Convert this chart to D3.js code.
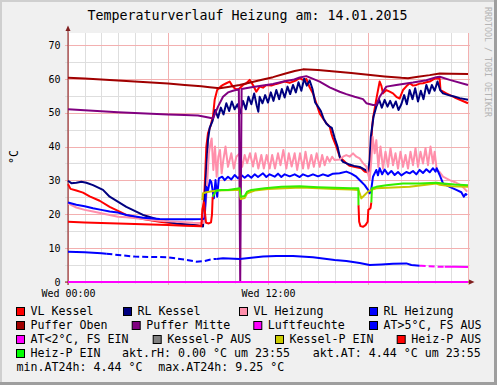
<!DOCTYPE html>
<html><head><meta charset="utf-8">
<script src="https://cdn.jsdelivr.net/npm/d3@7"></script>
<style>
body{margin:0;background:#f0f0f0;}
svg{display:block;}
text{font-family:"DejaVu Sans Mono",monospace;}
</style></head><body>
<svg id="c" width="497" height="385"></svg>
<script>
// ---------- DATA (hour of day, °C) ----------
const title = "Temperaturverlauf Heizung am: 14.01.2015";
const yLabel = "°C";
const credit = "RRDTOOL / TOBI OETIKER";
const yTickValues = [0,10,20,30,40,50,60,70];
const yMinorValues = [5,15,25,35,45,55,65];
const xMajorHours = [0,6,12,18,24];
const xLabelHours = [0,12];
const xLabelTexts = ["Wed 00:00","Wed 12:00"];

const vlKessel = [[0,28.9],[0.15,27.5],[0.5,27.0],[0.9,26.4],[1.3,25.3],[1.9,24.0],[2.5,22.2],[3.0,21.0],[3.5,19.8],[4.5,18.6],[5.5,17.8],[6.5,17.2],[7.5,16.8],[8.05,16.6],[8.2,28],[8.3,40],[8.4,44],[8.55,46],[8.7,49],[8.8,53.8],[8.95,56.7],[9.15,57.7],[9.3,58.2],[9.5,58.7],[9.7,59.2],[9.85,58],[10.0,57.2],[10.15,56.8],[10.3,57.2],[10.5,58.2],[10.7,58.7],[10.9,59.7],[11.1,58.2],[11.3,56.2],[11.5,57.7],[11.7,57.4],[11.9,58.2],[12.2,58.0],[12.5,58.5],[12.8,58.9],[13.0,59.2],[13.3,58.8],[13.5,59.2],[13.7,59.6],[13.9,60.2],[14.1,59.7],[14.3,60.0],[14.4,58.7],[14.5,57.5],[14.7,55.7],[14.9,52.8],[15.1,49.8],[15.3,48.3],[15.5,46.9],[15.7,45.9],[15.8,43.9],[15.9,42.4],[16.1,40.0],[16.3,37.0],[16.5,36.0],[16.7,35.1],[16.9,34.3],[17.3,33.9],[17.6,33.6],[17.8,32.6],[18.0,32.3],[18.1,33.1],[18.15,38],[18.25,45.9],[18.3,48.3],[18.5,54],[18.7,59.2],[18.8,58],[18.9,55.7],[19.1,56.7],[19.3,56.2],[19.5,55.7],[19.7,54.7],[19.9,54.2],[20.1,56.7],[20.3,57.8],[20.5,58.7],[20.7,58.0],[20.9,58.2],[21.1,58.6],[21.3,58.7],[21.5,59.0],[21.7,59.2],[21.9,59.8],[22.1,60.2],[22.3,60.0],[22.35,56.7],[22.7,55.7],[23.2,54.5],[24.0,52.8]];

const rlKessel = [[0,29.9],[0.2,29.2],[0.5,29.3],[0.8,29.6],[1.1,29.3],[1.5,28.6],[2.1,27.2],[2.5,25.2],[3.5,22.2],[4.5,19.8],[5.5,18.3],[6.5,17.3],[7.5,16.8],[8.0,16.5],[8.1,16.4],[8.2,24],[8.3,33],[8.4,42],[8.5,45.5],[8.67,47.5],[8.83,50.8],[9.0,48.5],[9.17,51.5],[9.33,49.5],[9.5,52.8],[9.67,50.5],[9.83,53.3],[10.0,51.0],[10.17,52.5],[10.33,49.8],[10.5,53.5],[10.67,51.0],[10.83,54.7],[11.0,52.5],[11.17,55.7],[11.33,52.0],[11.42,50.3],[11.5,54.7],[11.67,52.8],[11.83,55.2],[12.0,53.0],[12.17,56.0],[12.33,53.5],[12.5,56.7],[12.67,54.0],[12.83,57.0],[13.0,54.5],[13.17,57.7],[13.33,55.5],[13.5,58.2],[13.67,56.0],[13.83,59.0],[14.0,56.5],[14.17,60.0],[14.33,58.0],[14.5,59.5],[14.67,57.0],[14.83,53.0],[15.0,51.8],[15.17,50.5],[15.33,48.3],[15.5,46.8],[15.67,46.0],[15.83,45.5],[16.0,42.5],[16.17,40.0],[16.33,36.5],[16.5,35.5],[16.83,34.8],[17.17,34.3],[17.5,34.0],[17.83,33.1],[18.0,32.6],[18.1,36.0],[18.17,42.9],[18.33,48.8],[18.5,51.8],[18.67,53.8],[18.83,51.5],[19.0,53.8],[19.17,51.8],[19.33,53.5],[19.5,51.5],[19.67,53.3],[19.83,50.8],[20.0,52.5],[20.17,55.2],[20.33,52.5],[20.5,56.7],[20.67,54.0],[20.83,57.2],[21.0,53.3],[21.17,56.5],[21.33,54.0],[21.5,58.2],[21.67,55.7],[21.83,58.2],[22.0,56.5],[22.17,59.2],[22.33,56.7],[22.5,55.7],[22.83,55.2],[23.17,54.8],[23.5,54.3],[24.0,53.8]];

const vlHeizung = [[0,23.2],[0.5,22.0],[1.0,21.3],[1.5,20.8],[2.0,20.3],[2.5,19.8],[3.0,19.3],[3.5,19.1],[4.5,18.6],[5.5,18.1],[6.5,17.8],[7.5,17.5],[8.1,17.4],[8.3,25],[8.45,38],[8.55,41],[8.62,42.4],[8.72,33.1],[8.82,40],[8.92,31.1],[9.02,37],[9.12,39],[9.22,32.1],[9.32,36],[9.45,40],[9.6,34],[9.8,38],[9.95,33.5],[10.1,37],[10.3,38],[10.45,34],[10.6,37.5],[10.75,35.1],[10.92,38],[11.1,34.1],[11.25,38],[11.42,33.5],[11.6,37.5],[11.75,33.5],[11.92,37.5],[12.1,33.5],[12.25,37.5],[12.42,33.5],[12.6,38],[12.75,34.5],[12.92,39],[13.1,33.5],[13.25,38],[13.42,34.1],[13.6,38],[13.75,33.1],[13.92,38],[14.1,33.5],[14.25,38.5],[14.42,33.5],[14.6,37.5],[14.75,34],[14.92,38],[15.1,34],[15.25,37.5],[15.4,34.5],[15.55,37],[15.7,35.5],[15.85,37],[16.0,36],[16.3,36.2],[16.5,37],[16.7,37.5],[16.9,37],[17.1,38],[17.3,37],[17.5,36.5],[17.7,35.1],[17.9,34.1],[18.0,32.1],[18.1,30.1],[18.2,36],[18.28,42.9],[18.4,38],[18.5,41.9],[18.62,34],[18.75,40],[18.9,33.5],[19.05,38.5],[19.2,34],[19.35,39.5],[19.5,34.5],[19.65,38],[19.8,33.5],[19.95,38.5],[20.1,34],[20.25,37.5],[20.4,33.5],[20.55,38.5],[20.7,34.5],[20.85,39.5],[21.0,34],[21.15,38.5],[21.3,35],[21.45,39.5],[21.6,34.5],[21.75,40],[21.9,35],[22.0,38.5],[22.12,33.1],[22.3,32.5],[22.5,31.1],[22.9,30.1],[23.3,29.3],[23.6,28.5],[23.8,27.5],[23.95,26.7]];

const rlHeizung = [[0,23.5],[0.5,22.8],[1.0,22.4],[1.5,21.8],[2.0,21.3],[2.5,20.8],[3.0,20.5],[3.5,19.8],[4.5,19.0],[5.5,18.6],[6.5,18.5],[7.5,18.5],[8.1,18.6],[8.2,18.8],[8.3,28.1],[8.4,27],[8.52,30.1],[8.6,29.5],[8.75,24.7],[8.85,30.1],[8.95,25.2],[9.05,30.6],[9.25,31.1],[9.4,30.1],[9.6,31.1],[9.8,30.3],[10.0,31.6],[10.2,30.6],[10.4,31.6],[10.6,30.8],[10.8,31.6],[11.0,30.8],[11.2,31.8],[11.4,31.0],[11.7,32.1],[11.9,31.0],[12.1,31.8],[12.4,31.1],[12.6,32.0],[12.8,31.0],[13.0,31.8],[13.3,31.2],[13.6,31.8],[13.9,31.0],[14.1,31.8],[14.4,31.2],[14.7,31.8],[15.0,31.2],[15.3,31.8],[15.6,31.3],[15.9,32.0],[16.3,32.1],[16.7,32.6],[17.0,32.0],[17.3,31.1],[17.6,29.6],[17.8,28.6],[18.0,27.2],[18.1,26.2],[18.2,27.5],[18.3,31.1],[18.5,33.1],[18.6,31.5],[18.7,33.6],[18.85,31.8],[19.0,33.2],[19.2,31.8],[19.4,32.8],[19.6,31.6],[19.8,32.5],[20.0,31.5],[20.3,32.5],[20.5,32.1],[20.7,32.8],[20.9,31.8],[21.1,33.1],[21.3,32.2],[21.5,33.3],[21.7,32.4],[21.9,33.6],[22.05,32.6],[22.12,33.6],[22.3,31.6],[22.5,29.1],[22.9,28.1],[23.3,27.2],[23.6,26.5],[23.75,25.2],[23.85,26],[23.95,25.7]];

const pufferOben = [[0,60.3],[1,60.1],[2,59.8],[3,59.5],[4,59.2],[5,58.9],[6,58.6],[7,58.2],[8,57.8],[8.5,57.5],[9.1,57.2],[9.6,57.6],[10.3,58.2],[11.0,59.0],[11.7,59.8],[12.3,60.5],[13.0,61.5],[13.6,62.3],[14.1,62.8],[15.0,62.6],[16.0,62.2],[17.0,61.7],[18.0,61.2],[19.0,60.7],[20.0,60.3],[20.4,60.2],[21.0,60.6],[21.7,61.1],[22.3,61.6],[23.0,61.5],[24,61.4]];

const pufferMitte = [[0,51.0],[1,50.7],[2,50.4],[3,50.1],[4,49.9],[5,49.7],[6,49.5],[7,49.3],[7.8,49.2],[8.2,48.8],[8.5,48.5],[8.7,48.3],[8.85,50.0],[9.0,51.8],[9.3,54.7],[9.6,56.0],[9.9,56.5],[10.25,56.9],[10.333,0],[10.417,57.0],[11.0,57.5],[11.5,57.9],[12.3,58.5],[13.0,59.3],[13.5,59.7],[13.9,60.4],[14.3,60.8],[14.6,60.2],[15.1,59.2],[15.7,57.5],[16.3,56.2],[16.7,55.5],[17.2,54.7],[17.7,54.0],[17.9,52.8],[18.3,52.3],[18.5,52.3],[18.7,54.7],[19.1,57.7],[19.7,58.2],[20.7,58.9],[21.5,59.6],[22.1,60.5],[22.3,60.6],[22.9,59.7],[24,58.2]];

const luftfeuchte = [[0,0],[24,0]];

const aussenTemp = [[0,8.95],[1,8.8],[2,8.5],[3,8.0],[4,7.5],[5,7.4],[6,7.3],[7,6.6],[7.7,6.0],[8.2,6.2],[8.6,6.7],[9.3,7.0],[10.3,6.8],[11.7,7.5],[12.5,7.7],[13.5,7.7],[14.7,7.3],[16.0,6.5],[16.7,6.2],[17.5,5.6],[18.1,5.0],[18.8,5.2],[19.5,5.4],[20.3,5.5],[20.6,5.0],[21.2,4.8],[22.3,4.5],[23.2,4.5],[24,4.44]];
// AT state periods: [from, to, state, intermittent]
const atStates = [[0,2.3,"warm",false],[2.3,8.9,"warm",true],[8.9,21.1,"warm",false],[21.1,22.6,"cold",true],[22.6,24,"cold",false]];

// Kessel-P temperature line while pump ON
const kesselPEin = [[8.06,24.2],[8.1,26.2],[8.3,26.5],[8.55,26.7],[9.0,27.0],[10.0,27.2],[10.3,27.2],[10.36,24.5],[10.6,24.8],[10.75,26.2],[11.2,27.0],[12,27.5],[13,27.7],[14,27.9],[15,27.7],[16,27.5],[17,27.3],[17.42,27.2],[17.5,26.2],[17.6,24.7],[17.8,25.7],[18.0,26.7],[18.2,27.2],[18.5,27.7],[20.5,28.1],[22.1,29.1],[22.3,28.7],[23,28.3],[24,28.1]];
// Heiz-P temperature line while pump OFF / ON
const heizPAus = [[0,17.8],[1,17.6],[2,17.4],[3,17.3],[4,17.1],[5,17.0],[6,16.8],[7,16.6],[8.0,16.5],[8.06,21.5],[8.16,23.5],[8.28,17.5],[8.45,17.3],[8.58,17.6],[8.64,20],[8.68,25.2],[8.7,null],[17.43,null],[17.43,22.7],[17.47,17.8],[17.55,16.5],[17.7,16.3],[17.85,16.8],[17.98,17.8],[18.02,21.3],[18.15,21.8],[18.2,23.5]];
const heizPEin = [[8.68,25.2],[8.8,26.2],[8.9,27.0],[9.2,27.2],[9.6,27.2],[10.0,27.5],[10.3,27.7],[10.36,25.2],[10.6,25.4],[10.75,26.7],[11.0,27.2],[11.8,27.7],[12.8,28.1],[13.9,28.3],[15.0,28.0],[16.0,27.8],[17.0,27.7],[17.42,27.7],[17.43,22.7],[17.44,null],[18.19,null],[18.2,23.5],[18.24,27.7],[18.5,28.1],[19.1,28.6],[20.1,29.1],[21.1,29.1],[22.1,29.3],[22.5,29.1],[23.2,28.8],[24,28.6]];

const legendNames = [
  ["VL Kessel","RL Kessel","VL Heizung","RL Heizung"],
  ["Puffer Oben","Puffer Mitte","Luftfeuchte","AT>5°C, FS AUS"],
  ["AT<2°C, FS EIN","Kessel-P AUS","Kessel-P EIN","Heiz-P AUS"],
  ["Heiz-P EIN"]
];
const legendColors = [
  ["#ff0000","#000080","#ff8fab","#0000ff"],
  ["#a00000","#800080","#ff00ff","#0000ff"],
  ["#ff00ff","#808080","#cccc00","#ff0000"],
  ["#00ff00"]
];
const statTexts = ["akt.rH: 0.00 °C um 23:55","akt.AT: 4.44 °C um 23:55","min.AT24h: 4.44 °C","max.AT24h: 9.25 °C"];

// ---------- LAYOUT ----------
const W=497,H=385;
const svg=d3.select("#c");
const x=d3.scaleLinear().domain([0,24]).range([68,468]);
const y=d3.scaleLinear().domain([0,73.54]).range([282,33]);

svg.append("rect").attr("width",W).attr("height",H).attr("fill","#f0f0f0");
// 3D frame
svg.append("rect").attr("x",0).attr("y",0).attr("width",W).attr("height",2).attr("fill","#cfcfcf");
svg.append("rect").attr("x",0).attr("y",0).attr("width",2).attr("height",H).attr("fill","#cfcfcf");
svg.append("rect").attr("x",W-3).attr("y",0).attr("width",3).attr("height",H).attr("fill","#9e9e9e");
svg.append("rect").attr("x",0).attr("y",H-3).attr("width",W).attr("height",3).attr("fill","#9e9e9e");

// canvas
svg.append("rect").attr("x",68).attr("y",33).attr("width",400).attr("height",249).attr("fill","#fff");

const minorCol="#dedede", majorCol="#f3b0b0";
svg.append("g").attr("transform","translate(0,284)")
  .call(d3.axisBottom(x).tickValues(d3.range(1,24)).tickSize(-251).tickFormat(""))
  .call(g=>{g.select(".domain").remove();g.selectAll("line").attr("stroke",minorCol).attr("stroke-width",1).attr("shape-rendering","crispEdges");});
svg.append("g").attr("transform","translate(65,0)")
  .call(d3.axisLeft(y).tickValues(yMinorValues).tickSize(-405).tickFormat(""))
  .call(g=>{g.select(".domain").remove();g.selectAll("line").attr("stroke",minorCol).attr("stroke-width",1).attr("shape-rendering","crispEdges");});
svg.append("g").attr("transform","translate(0,285)")
  .call(d3.axisBottom(x).tickValues(xMajorHours).tickSize(-252).tickFormat(""))
  .call(g=>{g.select(".domain").remove();g.selectAll("line").attr("stroke",majorCol).attr("stroke-width",1).attr("shape-rendering","crispEdges");});
svg.append("g").attr("transform","translate(65,0)")
  .call(d3.axisLeft(y).tickValues(yTickValues).tickSize(-405).tickFormat(""))
  .call(g=>{g.select(".domain").remove();g.selectAll("line").attr("stroke",majorCol).attr("stroke-width",1).attr("shape-rendering","crispEdges");});

svg.append("g").attr("transform","translate(68,0)")
  .call(d3.axisLeft(y).tickValues(yTickValues).tickSize(0).tickPadding(7.5).tickFormat(d3.format("d")))
  .call(g=>{g.select(".domain").remove();g.selectAll("text").attr("font-family","DejaVu Sans Mono").attr("font-size","10px").attr("fill","#000");});
svg.append("g").attr("transform","translate(0,282)")
  .call(d3.axisBottom(x).tickValues(xLabelHours).tickSize(0).tickPadding(8).tickFormat((d,i)=>xLabelTexts[i]))
  .call(g=>{g.select(".domain").remove();g.selectAll("text").attr("font-family","DejaVu Sans Mono").attr("font-size","10px").attr("fill","#000");});

const axCol="#801f1f";
svg.append("line").attr("x1",65).attr("x2",471).attr("y1",282).attr("y2",282).attr("stroke",axCol).attr("stroke-width",1);
svg.append("line").attr("x1",68).attr("x2",68).attr("y1",285).attr("y2",29).attr("stroke",axCol).attr("stroke-width",1);
svg.append("path").attr("d","M469,279.5L474.5,282L469,284.5Z").attr("fill",axCol);
svg.append("path").attr("d","M65.5,31L68,25.5L70.5,31Z").attr("fill",axCol);

const line=d3.line().defined(d=>d[1]!=null).x(d=>x(d[0])).y(d=>y(d[1]));
function draw(data,color,extra){
  const p=svg.append("path").datum(data).attr("d",line).attr("fill","none")
    .attr("stroke",color).attr("stroke-width",2).attr("stroke-linejoin","round").attr("stroke-linecap","butt");
  if(extra) extra(p);
  return p;
}
draw(vlKessel,"#ff0000");
draw(rlKessel,"#000080");
draw(vlHeizung,"#ff8fab");
draw(rlHeizung,"#0000ff");
draw(pufferOben,"#a00000");
draw(pufferMitte,"#800080");
draw(luftfeuchte,"#ff00ff");
const atInterp=d3.scaleLinear().domain(aussenTemp.map(d=>d[0])).range(aussenTemp.map(d=>d[1]));
atStates.forEach(([a,b,st,inter])=>{
  const pts=aussenTemp.filter(d=>d[0]>a&&d[0]<b);
  const seg=[[a,atInterp(a)],...pts,[b,atInterp(b)]];
  draw(seg, st==="warm"?"#0000ff":"#ff00ff", p=>{ if(inter) p.attr("stroke-dasharray","6,3"); });
});
draw(kesselPEin,"#c8c800");
draw(heizPAus,"#ff0000");
draw(heizPEin,"#33ee00");

svg.append("text").attr("x",247.5).attr("y",20).attr("text-anchor","middle")
  .attr("font-size","13.3px").attr("fill","#000").text(title);
svg.append("text").attr("transform","translate(18,157) rotate(-90)").attr("text-anchor","middle")
  .attr("font-size","11.6px").attr("fill","#000").text(yLabel);
svg.append("text").attr("transform","translate(484.5,7) rotate(90)").attr("text-anchor","start")
  .attr("font-size","8.3px").attr("fill","#b4b4b4").text(credit);

const boxX=[[16,123,239,369],[16,131.7,253.3,369],[16,152.7,275,396.7],[16]];
const rowBase=[315,329,343,357];
legendNames.forEach((row,ri)=>{
  row.forEach((name,ci)=>{
    const bx=boxX[ri][ci];
    svg.append("rect").attr("x",bx+0.5).attr("y",rowBase[ri]-7.5).attr("width",8).attr("height",8)
      .attr("fill",legendColors[ri][ci]).attr("stroke","#000").attr("stroke-width",1);
    svg.append("text").attr("x",bx+14.5).attr("y",rowBase[ri]).attr("font-size","11.63px").attr("fill","#000").text(name);
  });
});
const statPos=[[122,357],[312.7,357],[16.5,371],[158.3,371]];
statTexts.forEach((t,i)=>{
  svg.append("text").attr("x",statPos[i][0]).attr("y",statPos[i][1]).attr("font-size","11.63px").attr("fill","#000").text(t);
});
</script>
</body></html>
